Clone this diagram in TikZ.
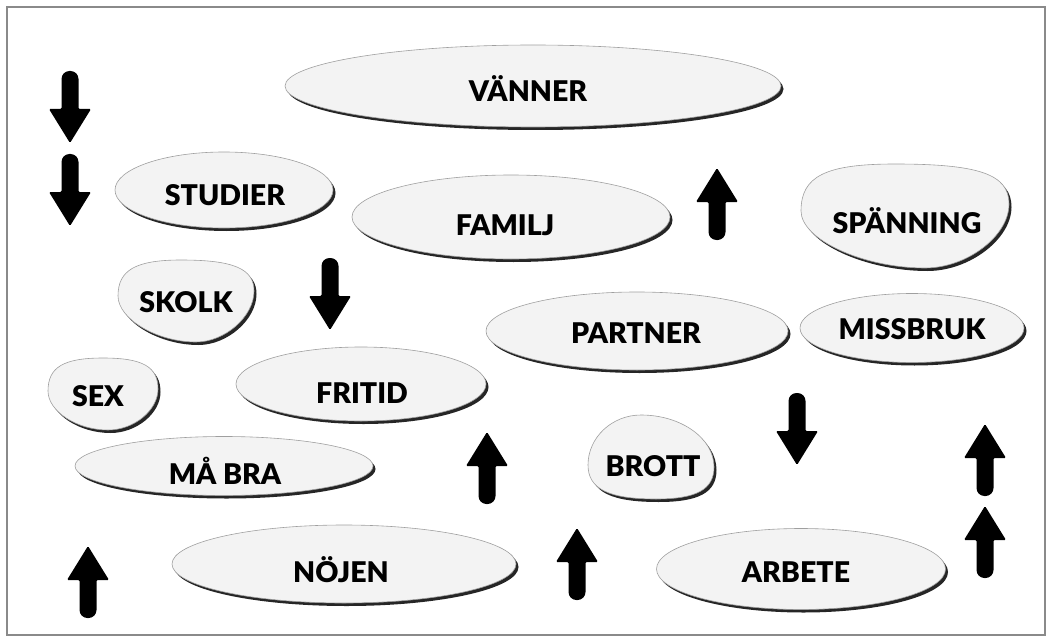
\documentclass[tikz,border=0pt]{standalone}
\usepackage{fontspec}
\setmainfont{Lato}[BoldFont={Lato Black}]
\usetikzlibrary{shapes.geometric,shadows}
\definecolor{blobfill}{HTML}{F3F3F3}
\definecolor{framegray}{HTML}{8A8A8A}
% #1 centre, #2 half width, #3 half height, #4 y of left end, #5 y of right end,
% #6 x of top, #7 x of bottom, #8 top roundness, #9 bottom roundness
\newcommand\egg[9]{%
  \begin{scope}[shift={#1}]
    \fill[black!85, shift={(2.5,3)}]
      (-#2,#4) .. controls (-#2,{#4-#8*(#4+#3)}) and ({#6-#8*(#6+#2)},-#3) .. (#6,-#3)
      .. controls ({#6+#8*(#2-#6)},-#3) and (#2,{#5-#8*(#5+#3)}) .. (#2,#5)
      .. controls (#2,{#5+#9*(#3-#5)}) and ({#7+#9*(#2-#7)},#3) .. (#7,#3)
      .. controls ({#7-#9*(#7+#2)},#3) and (-#2,{#4+#9*(#3-#4)}) .. (-#2,#4) -- cycle;
    \fill[blobfill, draw=gray!75, line width=0.6pt]
      (-#2,#4) .. controls (-#2,{#4-#8*(#4+#3)}) and ({#6-#8*(#6+#2)},-#3) .. (#6,-#3)
      .. controls ({#6+#8*(#2-#6)},-#3) and (#2,{#5-#8*(#5+#3)}) .. (#2,#5)
      .. controls (#2,{#5+#9*(#3-#5)}) and ({#7+#9*(#2-#7)},#3) .. (#7,#3)
      .. controls ({#7-#9*(#7+#2)},#3) and (-#2,{#4+#9*(#3-#4)}) .. (-#2,#4) -- cycle;
  \end{scope}}
\begin{document}
\begin{tikzpicture}[x=1pt,y=-1pt,
  blob/.style={ellipse, inner sep=0pt, fill=blobfill, draw=gray!75, line width=0.6pt,
    general shadow={fill=black!85, shadow xshift=2.5pt, shadow yshift=-3pt}},
  lbl/.style={font=\fontsize{28.5}{32}\selectfont\bfseries, inner sep=0pt, text=black},
  arr/.pic={\fill[black, rounded corners=1.2pt] (0,-36) -- (21,-2) -- (8.5,-2)
      [rounded corners=8pt] -- (8.5,36) -- (-8.5,36)
      [rounded corners=1.2pt] -- (-8.5,-2) -- (-21,-2) -- cycle;}]
\useasboundingbox (0,0) rectangle (1051,639);
\draw[framegray, line width=1.5pt] (7,7) rectangle (1045,635);

% elliptic blobs
\node[blob, minimum width=496, minimum height=82] (vanner) at (533,86) {};
\node[blob, minimum width=218, minimum height=76] (studier) at (224,190) {};
\node[blob, minimum width=318, minimum height=84] (familj) at (511,217) {};
\node[blob, minimum width=302, minimum height=78] (partner) at (637,331) {};
\node[blob, minimum width=224, minimum height=69] (missbruk) at (912,328) {};
\node[blob, minimum width=250, minimum height=74] (fritid) at (361,384) {};
\node[blob, minimum width=298, minimum height=59] (mabra) at (224,466) {};
\node[blob, minimum width=344, minimum height=78] (nojen) at (344,564) {};
\node[blob, minimum width=289, minimum height=81] (arbete) at (801,569) {};

% egg-shaped blobs
\egg{(905,216)}{104}{52}{-5}{-12}{-10}{20}{0.74}{0.5}
\egg{(186,301)}{68}{41}{-5}{-10}{-5}{10}{0.72}{0.5}
\egg{(103,394)}{55}{36}{-3}{-5}{0}{5}{0.72}{0.52}
\egg{(651,457)}{63}{42}{8}{10}{-10}{5}{0.55}{0.7}

% labels
\node[lbl] (vannerT) at (528,89) {VÄNNER};
\node[lbl] (studierT) at (225,195) {STUDIER};
\node[lbl] (familjT) at (505,225) {FAMILJ};
\node[lbl] (spanningT) at (907,221) {SPÄNNING};
\node[lbl] (skolkT) at (186,302) {SKOLK};
\node[lbl] (partnerT) at (636,333) {PARTNER};
\node[lbl] (missbrukT) at (912,329) {MISSBRUK};
\node[lbl] (sexT) at (98,396) {SEX};
\node[lbl] (fritidT) at (362,393) {FRITID};
\node[lbl] (mabraT) at (225,471) {MÅ BRA};
\node[lbl] (brottT) at (653,466) {BROTT};
\node[lbl] (nojenT) at (341,570) {NÖJEN};
\node[lbl] (arbeteT) at (796,572) {ARBETE};

% arrows
\pic[rotate=180] at (70,107) {arr};
\pic[rotate=180] at (70,190) {arr};
\pic[rotate=180] at (330,294) {arr};
\pic[rotate=180] at (797,429) {arr};
\pic at (717,204) {arr};
\pic at (487,468) {arr};
\pic at (577,564) {arr};
\pic at (88,582) {arr};
\pic at (985,460) {arr};
\pic at (985,542) {arr};
\end{tikzpicture}
\end{document}
